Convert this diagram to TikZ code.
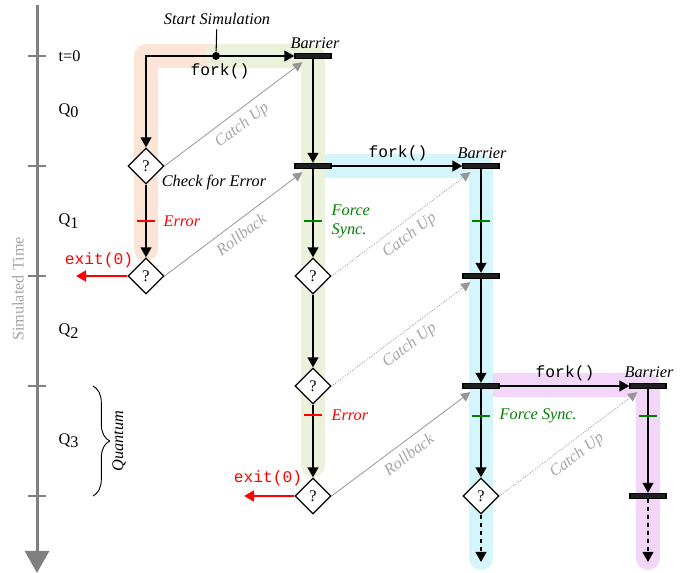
\documentclass[tikz,border=0pt]{standalone}
\usepackage{fontspec}
\setmainfont{Liberation Serif}
\setmonofont{Liberation Mono}
\usetikzlibrary{arrows.meta,shapes.geometric,decorations.pathreplacing,calc}

\definecolor{laneorange}{RGB}{252,228,214}
\definecolor{lanegreen}{RGB}{235,241,218}
\definecolor{laneblue}{RGB}{213,245,253}
\definecolor{lanepurple}{RGB}{245,214,251}
\definecolor{axisgray}{RGB}{128,128,128}
\definecolor{linkgray}{RGB}{150,150,150}
\definecolor{labelgray}{RGB}{165,165,165}
\definecolor{syncgreen}{RGB}{0,128,0}
\newcommand\basefont{\fontsize{12.2}{14.5}\selectfont}

\begin{document}
\begin{tikzpicture}[x=0.75pt,y=-0.75pt,
  every node/.style={font=\basefont},
  lane/.style={line width=18pt,line cap=round,line join=round},
  flow/.style={line width=1.5pt,-{Triangle[length=7.5pt,width=8pt]}},
  bar/.style={rectangle,draw=black,fill=black!88,line width=0.9pt,minimum width=27pt,minimum height=3.8pt,inner sep=0pt},
  check/.style={diamond,draw,fill=white,line width=0.9pt,minimum width=27pt,minimum height=27pt,inner sep=0pt,aspect=1},
  link/.style={linkgray,line width=0.6pt,-{Triangle[length=7pt,width=7pt]}},
  dotlink/.style={link,densely dotted},
  linklabel/.style={sloped,below,inner sep=5pt,text=labelgray,font=\basefont\itshape},
  exitarrow/.style={red,line width=2pt,-{Triangle[length=7.5pt,width=8pt]}},
  exitlabel/.style={text=red,font=\basefont\ttfamily},
  forklabel/.style={font=\basefont\ttfamily},
  itlabel/.style={font=\basefont\itshape},
  errtick/.style={red,line width=0.8pt},
  synctick/.style={syncgreen,line width=0.8pt},
  tick/.style={axisgray,line width=1.1pt}
]
\useasboundingbox (0,0) rectangle (686,573);

% ---- time axis ----
\draw[axisgray,line width=2.25pt,-{Triangle[length=16.5pt,width=18pt]}] (37,5) -- (37,573);
\foreach \yy in {56,166,276,386,496} \draw[tick] (28,\yy) -- (46,\yy);
\node[anchor=west] (lt0) at (54,56) {t=0};
\node[anchor=west] (lq0) at (54,111) {Q\raisebox{-0.45ex}{0}};
\node[anchor=west] (lq1) at (54,221) {Q\raisebox{-0.45ex}{1}};
\node[anchor=west] (lq2) at (54,331) {Q\raisebox{-0.45ex}{2}};
\node[anchor=west] (lq3) at (54,441) {Q\raisebox{-0.45ex}{3}};
\node[rotate=90,text=labelgray] (simtime) at (18,289) {Simulated Time};
\draw[decorate,decoration={brace,amplitude=12.5pt},line width=0.7pt] (93,386) -- (93,496);
\node[rotate=90,itlabel] (quantum) at (119,441) {Quantum};

% ---- lanes ----
\draw[lane,lanepurple] (481,385) -- (648,385) -- (648,558);
\draw[lane,laneblue] (313,166) -- (481,166) -- (481,558);
\draw[lane,laneorange] (216,56) -- (146,56) -- (146,249);
\draw[lane,lanegreen] (216,56) -- (313,56) -- (313,465);

% ---- nodes ----
\node[circle,fill=black,inner sep=0pt,minimum size=6pt] (start) at (216,56) {};
\node[itlabel] (startlbl) at (217,19) {Start Simulation};

\node[bar] (b1) at (313,56) {};
\node[bar] (b2) at (313,166) {};
\node[bar] (b3) at (481,166) {};
\node[bar] (b4) at (481,276) {};
\node[bar] (b5) at (481,386) {};
\node[bar] (b6) at (648,386) {};
\node[bar] (b7) at (648,496) {};

\node[check] (d1) at (146,166) {?};
\node[check] (d2) at (146,276) {?};
\node[check] (d3) at (313,276) {?};
\node[check] (d4) at (313,386) {?};
\node[check] (d5) at (313,496) {?};
\node[check] (d6) at (481,496) {?};

\node[itlabel] (bl1) at (315,43) {Barrier};
\node[itlabel] (bl3) at (482,153) {Barrier};
\node[itlabel] (bl6) at (649,372) {Barrier};
\node[forklabel] (f1) at (220,71) {fork()};
\node[forklabel] (f2) at (398,153) {fork()};
\node[forklabel] (f3) at (565,373) {fork()};
\node[itlabel] (chk) at (214,183) {Check for Error};

\node[exitlabel] (x1) at (99,260) {exit(0)};
\node[exitlabel] (x2) at (268,478) {exit(0)};
\coordinate (x1end) at (76,276);
\coordinate (x2end) at (244,496);
\coordinate (e6) at (481,562);
\coordinate (e7) at (648,562);

% ---- black flow ----
\draw[line width=0.8pt] (startlbl) -- (start);
\draw[flow] (start) -| (d1);
\draw[flow] (start) -- (b1);
\draw[flow] (d1) -- (d2);
\draw[flow] (b1) -- (b2);
\draw[flow] (b2) -- (d3);
\draw[flow] (d3) -- (d4);
\draw[flow] (d4) -- (d5);
\draw[flow] (b2) -- (b3);
\draw[flow] (b3) -- (b4);
\draw[flow] (b4) -- (b5);
\draw[flow] (b5) -- (d6);
\draw[flow] (b5) -- (b6);
\draw[flow] (b6) -- (b7);
\draw[flow,dashed] (d6) -- (e6);
\draw[flow,dashed] (b7) -- (e7);

% ---- exits ----
\draw[exitarrow] (d2) -- (x1end);
\draw[exitarrow] (d5) -- (x2end);

% ---- ticks on flows ----
\draw[errtick] (137,221) -- (155,221);
\node[anchor=west,itlabel,text=red] (err1) at (159,221) {Error};
\draw[synctick] (304,221) -- (322,221);
\node[anchor=west,align=left,itlabel,text=syncgreen,font=\fontsize{12.2}{14.3}\selectfont\itshape] (fs1) at (327,221) {Force\\Sync.};
\draw[synctick] (472,221) -- (490,221);
\draw[errtick] (304,415) -- (322,415);
\node[anchor=west,itlabel,text=red] (err2) at (327,415) {Error};
\draw[synctick] (472,416) -- (490,416);
\node[anchor=west,itlabel,text=syncgreen] (fs2) at (495,416) {Force Sync.};
\draw[synctick] (639,416) -- (657,416);

% ---- gray links ----
\draw[link] (d1.east) -- ($(b1.south west)+(8,3)$) node[linklabel,pos=0.5] {Catch Up};
\draw[link] (d2.east) -- ($(b2.south west)+(8,3)$) node[linklabel,pos=0.5] {Rollback};
\draw[dotlink] (d3.east) -- ($(b3.south west)+(8,3)$) node[linklabel,pos=0.5] {Catch Up};
\draw[dotlink] (d4.east) -- ($(b4.south west)+(8,3)$) node[linklabel,pos=0.5] {Catch Up};
\draw[link] (d5.east) -- ($(b5.south west)+(8,3)$) node[linklabel,pos=0.5] {Rollback};
\draw[dotlink] (d6.east) -- ($(b6.south west)+(8,3)$) node[linklabel,pos=0.5] {Catch Up};
\end{tikzpicture}
\end{document}
